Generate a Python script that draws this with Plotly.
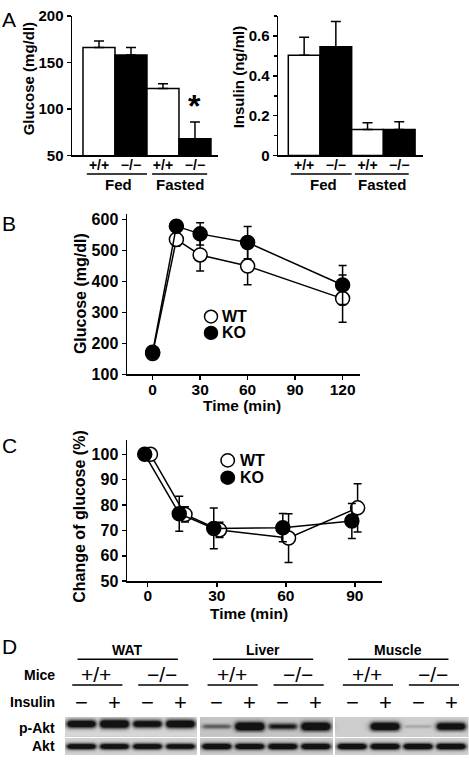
import numpy as np
import plotly.graph_objects as go

W, H = 469, 764
FONT = "Liberation Sans"

# ---------------- data ----------------
# Panel A: fed / fasted blood glucose and insulin
genotypes = ["+/+", "−/−", "+/+", "−/−"]
conditions = ["Fed", "Fasted"]
glucose_mean = [166, 158, 122, 68]
glucose_sem = [7, 8, 5, 18]
insulin_mean = [0.504, 0.546, 0.131, 0.131]
insulin_sem = [0.090, 0.128, 0.033, 0.038]
bar_fill = ["white", "black", "white", "black"]
glucose_ticks = [50, 100, 150, 200]
insulin_ticks = [0, 0.2, 0.4, 0.6]
insulin_ticktext = ["0", "0.2", "0.4", "0.6"]
insulin_minor = [0.1, 0.3, 0.5, 0.7]

# Panel B: glucose tolerance test
gtt_time = [0, 15, 30, 60, 120]
gtt_wt = [168, 536, 486, 450, 345]
gtt_wt_sem = [8, 22, 52, 60, 76]
gtt_ko = [172, 579, 554, 526, 389]
gtt_ko_sem = [8, 15, 36, 52, 63]
gtt_yticks = [100, 200, 300, 400, 500, 600]
gtt_xticks = [0, 30, 60, 90, 120]

# Panel C: insulin tolerance test
itt_time = [0, 15, 30, 60, 90]
itt_wt = [100, 76.3, 70.2, 67.0, 78.9]
itt_wt_sem = [0, 3.0, 3.0, 9.6, 9.5]
itt_ko = [100, 76.6, 70.8, 71.1, 73.7]
itt_ko_sem = [0, 6.9, 8.0, 5.6, 6.9]
itt_yticks = [50, 60, 70, 80, 90, 100]
itt_xticks = [0, 30, 60, 90]

# Panel D: western blot band signals (0 = none, 1 = saturated)
tissues = ["WAT", "Liver", "Muscle"]
mice = ["+/+", "−/−"]
insulin_tx = ["−", "+", "−", "+"]
pakt_signal = [[0.85, 0.95, 0.80, 0.90],
               [0.35, 0.97, 0.60, 0.95],
               [0.00, 0.92, 0.12, 0.85]]
akt_signal = [[0.85, 0.85, 0.85, 0.82],
              [0.90, 0.88, 0.90, 0.90],
              [0.90, 0.92, 0.90, 0.92]]
blot_background = [[214, 208], [196, 200], [206, 206]]  # grey level per tissue (p-Akt row, Akt row)
row_labels = ["Mice", "Insulin", "p-Akt", "Akt"]

# ---------------- helpers ----------------
def fx(p):
    return p / W

def fy(p):
    return 1 - p / H

def font(size, bold=True):
    return dict(family=FONT, size=size, color="black", weight="bold" if bold else "normal")

annotations = []
shapes = []

def ann(text, x, y, size, bold=True, xref="paper", yref="paper", xanchor="center",
        yanchor="middle", angle=0):
    annotations.append(dict(text=text, x=x, y=y, xref=xref, yref=yref, xanchor=xanchor,
                            yanchor=yanchor, showarrow=False, textangle=angle,
                            font=font(size, bold)))

def hline(x0, x1, y, xref="paper", width=1.5):
    shapes.append(dict(type="line", x0=x0, x1=x1, y0=y, y1=y, xref=xref, yref="paper",
                       line=dict(color="black", width=width)))

def legend_dot(cx, cy, r, fill):
    shapes.append(dict(type="circle", xref="paper", yref="paper",
                       x0=fx(cx - r), x1=fx(cx + r), y0=fy(cy + r), y1=fy(cy - r),
                       fillcolor=fill, line=dict(color="black", width=1.5)))

axis_common = dict(showline=True, linecolor="black", linewidth=1.5, showgrid=False,
                   zeroline=False, ticks="outside", ticklen=4, tickwidth=1.5,
                   tickcolor="black", fixedrange=True)

fig = go.Figure()

# ---------------- Panel A ----------------
bar_x = list(range(len(genotypes)))
err_kw = dict(type="data", symmetric=False, color="black", thickness=1.5, width=5)
fig.add_trace(go.Bar(x=bar_x, y=glucose_mean, width=1,
                     marker=dict(color=bar_fill, line=dict(color="black", width=1.5)),
                     error_y=dict(array=glucose_sem, arrayminus=[0] * 4, **err_kw),
                     xaxis="x", yaxis="y", showlegend=False, hoverinfo="skip"))
fig.add_trace(go.Bar(x=bar_x, y=insulin_mean, width=1,
                     marker=dict(color=bar_fill, line=dict(color="black", width=1.5)),
                     error_y=dict(array=insulin_sem, arrayminus=[0] * 4, **err_kw),
                     xaxis="x2", yaxis="y2", showlegend=False, hoverinfo="skip"))

A_TICK = 15
barx_axis = dict(axis_common, ticks="", tickvals=bar_x, ticktext=genotypes,
                 tickfont=font(14), ticklabelstandoff=-4)

# group underlines and labels
for xr_name, spans in (("x", [(-0.38, 1.5), (1.66, 3.38)]), ("x2", [(-0.42, 1.5), (1.6, 3.3)])):
    for (a, b), cond in zip(spans, conditions):
        hline(a, b, fy(169), xref=xr_name)
        ann(cond, (a + b) / 2 + (0.06 if cond == "Fed" else 0.0), fy(180), 15, xref=xr_name)

ann("*", 3, 103, 32, xref="x", yref="y")
ann("Glucose (mg/dl)", fx(28), fy(72), 15, angle=-90)
ann("Insulin (ng/ml)", fx(238), fy(70), 15, angle=-90)
ann("A", fx(0), fy(11), 21, bold=False, xanchor="left")

# ---------------- Panel B ----------------
def series(x, y, e, fill, xa, ya, size):
    return go.Scatter(x=x, y=y, mode="lines+markers",
                      line=dict(color="black", width=1.5),
                      marker=dict(size=size, color=fill, line=dict(color="black", width=1.5)),
                      error_y=dict(type="data", array=e, color="black", thickness=1.5, width=4),
                      xaxis=xa, yaxis=ya, showlegend=False, hoverinfo="skip", cliponaxis=False)

fig.add_trace(series(gtt_time, gtt_wt, gtt_wt_sem, "white", "x3", "y3", 14))
fig.add_trace(series(gtt_time, gtt_ko, gtt_ko_sem, "black", "x3", "y3", 14))

legend_dot(211, 315, 6.5, "white")
legend_dot(211, 331.7, 6.5, "black")
ann("WT", fx(220), fy(315), 16, xanchor="left")
ann("KO", fx(220), fy(331.7), 16, xanchor="left")
ann("Glucose (mg/dl)", fx(80), fy(292), 16, angle=-90)
ann("Time (min)", fx(242), fy(406), 15.5)
ann("B", fx(0), fy(220), 21, bold=False, xanchor="left")

# ---------------- Panel C ----------------
wt_shift, ko_shift = 1.2, -1.3
fig.add_trace(series([t + wt_shift for t in itt_time], itt_wt, itt_wt_sem, "white", "x4", "y4", 14))
fig.add_trace(series([t + ko_shift for t in itt_time], itt_ko, itt_ko_sem, "black", "x4", "y4", 14))

legend_dot(227.7, 462.3, 6.7, "white")
legend_dot(227.7, 480, 6.7, "black")
ann("WT", fx(238), fy(462.3), 16, xanchor="left")
ann("KO", fx(238), fy(480), 16, xanchor="left")
ann("Change of glucose (%)", fx(80), fy(520), 16, angle=-90)
ann("Time (min)", fx(249), fy(619.5), 15.5)
ann("C", fx(0), fy(447), 21, bold=False, xanchor="left")

# ---------------- Panel D (blot) ----------------
lane_pitch = 33.0
blot_l, blot_r, blot_t, blot_b = 65.0, 468.5, 725, 764
stride = 4.1
ncol = int(round(blot_r - blot_l))
nrow = blot_b - blot_t
x_lo = -0.5
x_hi = x_lo + (blot_r - blot_l) / lane_pitch
xs = x_lo + (np.arange(ncol) + 0.5) / lane_pitch
ys = np.arange(nrow) + 0.5
X, Y = np.meshgrid(xs, ys)
split_row = 20.5
tid = np.clip(np.floor((X + 0.55) / stride), 0, 2).astype(int)
bgarr = np.array(blot_background, dtype=float)
gray = np.where(Y < split_row, bgarr[tid, 0], bgarr[tid, 1])
dark = np.zeros_like(X)
pakt_row = [7.0, 9.5, 9.5]
akt_row = 30.5
for t in range(3):
    for j in range(4):
        cx = t * stride + j
        hp = 1.0 / (1.0 + ((X - cx) / 0.43) ** 10)
        s = pakt_signal[t][j]
        vp = np.exp(-0.5 * ((Y - pakt_row[t]) / (1.0 + 2.2 * s)) ** 2)
        dark = np.maximum(dark, np.clip(1.7 * s * hp * vp, 0, 1) * (Y < split_row))
        s2 = akt_signal[t][j]
        vp2 = np.exp(-0.5 * ((Y - akt_row) / (0.8 + 1.6 * s2)) ** 2)
        dark = np.maximum(dark, np.clip(1.7 * s2 * hp * vp2, 0, 1) * (Y > split_row + 2))
gray = gray - (gray - 18) * dark
gray[(Y > split_row) & (Y < split_row + 2)] = 255
for t in range(1, 3):
    sep = t * stride - 0.55
    gray[np.abs(X - sep) < 0.035] = 255

fig.add_trace(go.Heatmap(z=gray, x=xs, y=ys, colorscale=[[0, "black"], [1, "white"]],
                         zmin=0, zmax=255, showscale=False, xaxis="x5", yaxis="y5",
                         hoverinfo="skip"))

for t, name in enumerate(tissues):
    base = t * stride
    ann(name, base + 1.4, fy(656.5), 14, xref="x5")
    hline(base - 0.12, base + 2.92, fy(666), xref="x5")
    for g, m in enumerate(mice):
        ann(m, base + 2 * g + 0.45, fy(682), 21, bold=False, xref="x5")
        hline(base + 2 * g - 0.28, base + 2 * g + 1.24, fy(692.3), xref="x5")
    for j, sym in enumerate(insulin_tx):
        ann(sym, base + j, fy(710), 22, bold=False, xref="x5")

for lab, yy in zip(row_labels, [682.3, 710, 736.5, 755]):
    ann(lab, fx(57), fy(yy), 14, xanchor="right")
ann("D", fx(0), fy(653), 21, bold=False, xanchor="left")

# ---------------- layout ----------------
fig.update_layout(
    width=W, height=H, margin=dict(l=0, r=0, t=0, b=0),
    paper_bgcolor="white", plot_bgcolor="rgba(0,0,0,0)",
    font=font(15), bargap=0,
    xaxis=dict(barx_axis, domain=[fx(72), fx(218)], range=[-0.844, 3.72], anchor="y"),
    yaxis=dict(axis_common, domain=[fy(150), fy(7)], range=[50, 200], tickvals=glucose_ticks,
               tickfont=font(A_TICK), anchor="x"),
    xaxis2=dict(barx_axis, domain=[fx(278), fx(423)], range=[-0.825, 3.75], anchor="y2"),
    yaxis2=dict(axis_common, domain=[fy(150), fy(7)], range=[0, 0.702], tickvals=insulin_ticks,
                ticktext=insulin_ticktext, tickfont=font(A_TICK), anchor="x2",
                minor=dict(ticks="outside", ticklen=3, tickwidth=1.5, tickcolor="black",
                           tickvals=insulin_minor)),
    xaxis3=dict(axis_common, domain=[fx(127), fx(360)], range=[-16.2, 131], tickvals=gtt_xticks,
                tickfont=font(15.5), anchor="y3", ticklabelstandoff=-4),
    yaxis3=dict(axis_common, domain=[fy(374.3), fy(210)], range=[100, 618], tickvals=gtt_yticks,
                tickfont=font(16), anchor="x3"),
    xaxis4=dict(axis_common, domain=[fx(127), fx(382)], range=[-9, 101.8], tickvals=itt_xticks,
                tickfont=font(15.5), anchor="y4", ticklabelstandoff=-4),
    yaxis4=dict(axis_common, domain=[fy(586), fy(441)], range=[50, 105.8], tickvals=itt_yticks,
                tickfont=font(16), anchor="x4"),
    xaxis5=dict(domain=[fx(blot_l), fx(blot_r)], range=[x_lo, x_hi], visible=False,
                anchor="y5", fixedrange=True),
    yaxis5=dict(domain=[fy(blot_b), fy(blot_t)], range=[nrow, 0], visible=False,
                anchor="x5", fixedrange=True),
    annotations=annotations, shapes=shapes,
)

fig.write_html("out.html", config={"displayModeBar": False, "staticPlot": True},
               post_script="document.body.style.margin='0';document.body.style.overflow='hidden';")
